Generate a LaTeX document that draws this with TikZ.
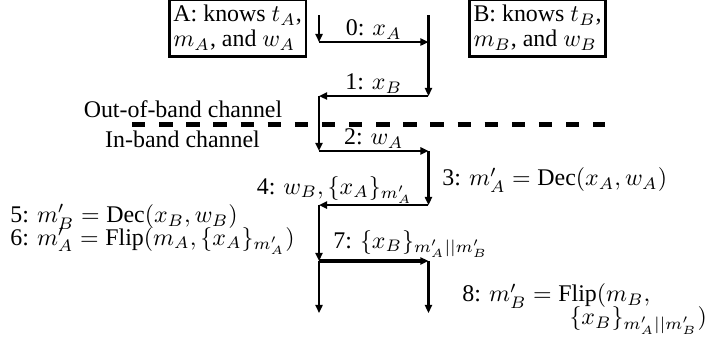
\documentclass[tikz,border=0pt]{standalone}
\usepackage{amsmath,amssymb}
\usepackage{fontspec}
\setmainfont{Liberation Serif}
\usetikzlibrary{arrows.meta,positioning,calc}

\begin{document}
\begin{tikzpicture}[
    party/.style={draw,very thick,align=left,inner xsep=1.7pt,inner ysep=2.4pt,
                  font=\fontsize{10}{10.5}\selectfont},
    msg/.style={-{Triangle[length=3.4pt,width=3pt]},very thick},
    lbl/.style={inner sep=.5pt,font=\fontsize{10}{10}\selectfont},
    step2/.style={lbl,align=left,anchor=north west,
                  font={\fontsize{10}{#1}\selectfont\lineskiplimit=-\maxdimen}},
    band/.style={line width=2.1pt,dash pattern=on 5.6pt off 5.75pt}
  ]
  \useasboundingbox (0,0) rectangle (10.367,-5.132);
  % parties
  \node[party,anchor=north west] (A) at (2.470,0.03) {A: knows $t_A$,\\$m_A$, and $w_A$};
  \node[party,anchor=north west] (B) at (6.882,0.03) {B: knows $t_B$,\\$m_B$, and $w_B$};
  % points on the two lifelines
  \coordinate (a0) at (4.691,-0.221);
  \coordinate (a1) at (4.691,-0.618);
  \coordinate (a2) at (4.691,-1.412);
  \coordinate (a3) at (4.691,-2.220);
  \coordinate (a4) at (4.691,-3.015);
  \coordinate (a5) at (4.691,-3.838);
  \coordinate (a6) at (4.691,-4.603);
  \coordinate (b0) at (6.301,-0.221);
  \coordinate (b1) at (6.301,-0.618);
  \coordinate (b2) at (6.301,-1.412);
  \coordinate (b3) at (6.301,-2.220);
  \coordinate (b4) at (6.301,-3.015);
  \coordinate (b5) at (6.301,-3.838);
  \coordinate (b6) at (6.301,-4.603);
  % channel split
  \coordinate (bandL) at (1.941,-1.831);
  \coordinate (bandR) at (8.896,-1.831);
  \draw[band] (bandL) -- (bandR);
  \node[lbl,anchor=base] (oob) at (2.691,-1.735) {Out-of-band channel};
  \node[lbl,anchor=base] (inb) at (2.684,-2.162) {In-band channel};
  % messages
  \draw[msg] (a0) -- (a1);
  \draw[msg] (a1) -- (b1) node[lbl,midway,above] (m0) {0: $x_A$};
  \draw[msg] (b0) -- (b2);
  \draw[msg] (b2) -- (a2) node[lbl,midway,above] (m1) {1: $x_B$};
  \draw[msg] (a2) -- (a3);
  \draw[msg] (a3) -- (b3) node[lbl,midway,above] (m2) {2: $w_A$};
  \draw[msg] (b3) -- (b4);
  \draw[msg] (b4) -- (a4);
  \draw[msg] (a4) -- (a5);
  \draw[msg,line width=1.6pt] (a5) -- (b5);
  \draw[msg] (a5) -- (a6);
  \draw[msg] (b5) -- (b6);
  % labels
  \node[lbl,anchor=base west] (m3) at (6.482,-2.735) {3: $m'_A=\mathrm{Dec}(x_A,w_A)$};
  \node[lbl,anchor=base east] (m4) at (6.091,-2.853) {4: $w_B,\{x_A\}_{m'_A}$};
  \node[step2=9.4pt] (m56) at (0.129,-2.984)
    {5: $m'_B=\mathrm{Dec}(x_B,w_B)$\\6: $m'_A=\mathrm{Flip}(m_A,\{x_A\}_{m'_A})$};
  \node[lbl,anchor=base west] (m7) at (4.879,-3.647) {7: $\{x_B\}_{m'_A||m'_B}$};
  \node[step2=9.6pt] (m8) at (6.776,-4.150)
    {8: $m'_B=\mathrm{Flip}(m_B,$\\\hspace*{44.8pt}$\{x_B\}_{m'_A||m'_B})$};
\end{tikzpicture}
\end{document}
